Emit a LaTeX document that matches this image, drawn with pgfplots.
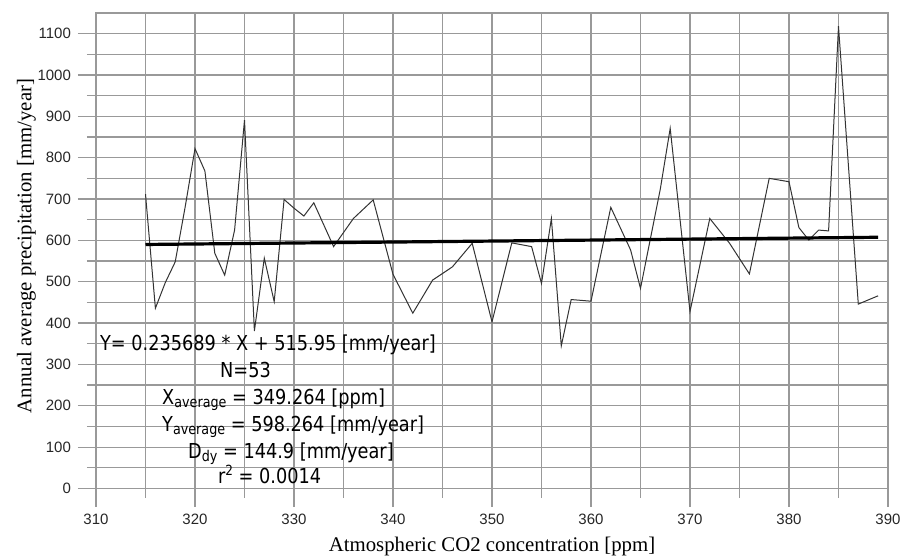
\documentclass[border=0pt]{standalone}
\usepackage{fontspec}
\setmainfont{Liberation Serif}
\newfontfamily\tickfont{Liberation Sans}
\newfontfamily\annfont[FakeStretch=0.86]{DejaVu Sans}
\usepackage{pgfplots}
\pgfplotsset{compat=1.18}
\newcommand{\ann}{\annfont\fontsize{10.3}{12}\selectfont}
\newcommand{\mysub}[1]{{\fontsize{7.4}{8}\selectfont\raisebox{-1.5pt}{#1}}}
\newcommand{\mysup}[1]{{\fontsize{7}{8}\selectfont\raisebox{4pt}{#1}}}
\begin{document}
\begin{tikzpicture}
\path[use as bounding box] (-48pt,-35.25pt) rectangle (402.5pt,244.25pt);
\begin{axis}[
  at={(0,0)}, anchor=south west,
  scale only axis, width=396pt, height=237.75pt,
  xmin=310, xmax=390, ymin=0, ymax=1150,
  xtick={310,320,...,390}, ytick={0,100,...,1100},
  minor x tick num=1, minor y tick num=1,
  grid=both,
  major grid style={gray!80, line width=0.65pt},
  minor grid style={gray!80, line width=0.65pt},
  axis line style={gray!80, line width=0.65pt},
  tick style={gray!80, line width=0.65pt},
  tick align=outside, tick pos=left,
  major tick length=9pt, minor tick length=4.5pt,
  /pgf/number format/assume math mode=true,
  /pgf/number format/1000 sep={},
  tick label style={font=\tickfont\fontsize{7.5}{8}\selectfont, text=black!85},
  clip=false,
  xlabel={Atmospheric CO2 concentration [ppm]},
  ylabel={Annual average precipitation [mm/year]},
  every axis x label/.style={at={(axis description cs:0.5,-0.121)}, anchor=center, font=\fontsize{10.4}{12}\selectfont},
  every axis y label/.style={at={(axis description cs:-0.088,0.51)}, anchor=center, rotate=90, font=\fontsize{10.4}{12}\selectfont},
]
\addplot[black!80, line width=0.5pt] coordinates {
(315,712) (316,436) (317,498) (318,548) (319,680) (320,822) (321,768)
(322,569) (323,516) (324,625) (325,891) (326,381) (327,557) (328,452)
(329,699) (330,678) (331,659) (332,691) (333,638) (334,585) (336,653)
(338,698) (340,518) (342,424) (344,504) (346,536) (348,593) (350,403)
(352,594) (354,585) (355,496) (356,653) (357,345) (358,457) (360,453)
(362,680) (364,577) (365,484) (367,724) (368,871) (370,428) (372,653)
(374,593) (376,519) (378,750) (380,742) (381,631) (382,601) (383,625)
(384,623) (385,1118) (387,446) (389,466)
};
\addplot[black, line width=1.6pt] coordinates {(315,590.19) (389,607.63)};
\node[anchor=base west, inner sep=0, font=\ann] at (axis cs:310.38,334.9) {Y= 0.235689 * X + 515.95 [mm/year]};
\node[anchor=base west, inner sep=0, font=\ann] at (axis cs:322.51,269.6) {N=53};
\node[anchor=base west, inner sep=0, font=\ann] at (axis cs:316.65,204.3) {X\mysub{average} = 349.264 [ppm]};
\node[anchor=base west, inner sep=0, font=\ann] at (axis cs:316.65,139) {Y\mysub{average} = 598.264 [mm/year]};
\node[anchor=base west, inner sep=0, font=\ann] at (axis cs:319.27,73.7) {D\mysub{dy} = 144.9 [mm/year]};
\node[anchor=base west, inner sep=0, font=\ann] at (axis cs:322.30,10.9) {r\mysup{2} = 0.0014};
\end{axis}
\end{tikzpicture}
\end{document}
